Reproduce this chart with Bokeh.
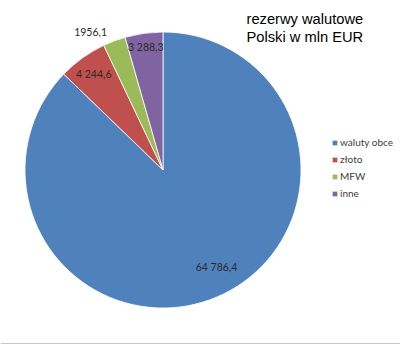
import math
from bokeh.plotting import figure
from bokeh.models import Range1d, Label, Legend, LegendItem, ColumnDataSource, Span
from bokeh.core.properties import value
from bokeh.embed import file_html
from bokeh.resources import INLINE

# data
categories = ["waluty obce", "złoto", "MFW", "inne"]
values = [64786.4, 4244.6, 1956.1, 3288.3]
value_labels = ["64 786,4", "4 244,6", "1956,1", "3 288,3"]
colors = ["#4F81BD", "#C0504D", "#9BBB59", "#8064A2"]
title_lines = ["rezerwy walutowe", "Polski w mln EUR"]

# layout / style
W, H = 400, 344
cx, cy, R = 162.5, H - 169.5, 138
label_r = [0.80, 0.86, 1.13, 0.90]
label_shift_deg = [-6, 0, -7, 0]

p = figure(width=W, height=H, output_backend="svg", toolbar_location=None,
           x_range=Range1d(0, W), y_range=Range1d(0, H), min_border=0,
           outline_line_color=None)
p.axis.visible = False
p.grid.visible = False
p.background_fill_color = "white"
p.border_fill_color = "white"

total = sum(values)
starts, ends, mids = [], [], []
cum = 0.0
for v in values:
    a0 = math.pi / 2 - cum / total * 2 * math.pi
    cum += v
    a1 = math.pi / 2 - cum / total * 2 * math.pi
    starts.append(a0)
    ends.append(a1)
    mids.append((a0 + a1) / 2)

items = []
for i, cat in enumerate(categories):
    src = ColumnDataSource(dict(x=[cx], y=[cy], s=[starts[i]], e=[ends[i]]))
    r = p.wedge(x="x", y="y", radius=R, start_angle="s", end_angle="e",
                direction="clock", source=src, fill_color=colors[i],
                line_color="white", line_width=0.8)
    items.append(LegendItem(label=cat, renderers=[r]))

lx, ly = [], []
for i in range(len(values)):
    a = mids[i] + math.radians(-label_shift_deg[i])
    lx.append(cx + R * label_r[i] * math.cos(a))
    ly.append(cy + R * label_r[i] * math.sin(a))
p.text(x=lx, y=ly, text=value_labels, text_font=value("Lato"),
       text_font_size="10.5px", text_color="#2b2b2b",
       text_align="center", text_baseline="middle")

for j, t in enumerate(title_lines):
    p.add_layout(Label(x=246, y=H - 10 - 18 * j, x_units="screen", y_units="screen",
                       text=t, text_font="Liberation Sans", text_font_size="14.7px",
                       text_color="#000000", text_baseline="top", text_align="left"))

legend = Legend(items=items, location=(331, 145), orientation="vertical",
                glyph_width=7, glyph_height=7, label_standoff=2, spacing=5,
                label_height=12, padding=0, margin=0,
                label_text_font="Lato", label_text_font_size="10px",
                label_text_color="#404040", border_line_color=None,
                background_fill_alpha=0)
p.add_layout(legend)

p.add_layout(Span(location=0.5, dimension="width", line_color="#c8c8c8", line_width=2))

open("out.html", "w").write(file_html(p, INLINE))
